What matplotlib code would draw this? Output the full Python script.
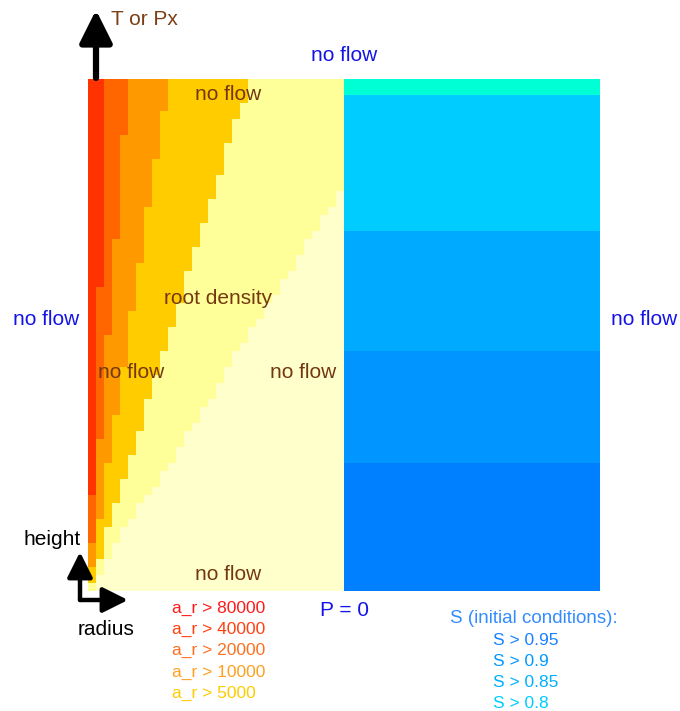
import numpy as np
import matplotlib
matplotlib.use("Agg")
import matplotlib.pyplot as plt
from matplotlib.colors import ListedColormap
from matplotlib.patches import FancyArrowPatch

plt.rcParams['font.family'] = ['Liberation Sans', 'DejaVu Sans']

# root density grid: 64 rows (height, top first) x 32 columns (radius)
# each band is the number of columns at or above that a_r threshold,
# stored as (columns, number of rows) runs from top to bottom
edge_80000 = [(2, 26), (1, 26), (0, 12)]
edge_40000 = [(5, 7), (4, 13), (3, 12), (2, 13), (1, 13), (0, 6)]
edge_20000 = [(10, 4), (9, 6), (8, 6), (7, 7), (6, 6), (5, 7), (4, 6),
              (3, 6), (2, 7), (1, 6), (0, 3)]
edge_10000 = [(20, 3), (19, 2), (18, 3), (17, 4), (16, 3), (15, 3), (14, 3),
              (13, 3), (12, 4), (11, 3), (10, 3), (9, 3), (8, 3), (7, 4),
              (6, 3), (5, 3), (4, 3), (3, 3), (2, 4), (1, 3), (0, 1)]
edge_5000 = [(32, 14), (31, 2), (30, 1), (29, 2), (28, 1), (27, 2), (26, 2),
             (25, 1), (24, 2), (23, 1), (22, 2), (21, 1), (20, 2), (19, 1),
             (18, 2), (17, 2), (16, 2), (15, 1), (14, 2), (13, 1), (12, 2),
             (11, 2), (10, 1), (9, 2), (8, 1), (7, 1), (6, 2), (5, 1), (4, 2),
             (3, 2), (2, 2), (1, 2)]

# initial saturation class per row on the soil side, (class, rows)
s_classes = [(0, 2), (1, 17), (2, 15), (3, 14), (4, 16)]

root_colors = ['#ffffcc', '#ffff99', '#ffcc00', '#ff9900', '#ff6600', '#ff3300']
soil_colors = ['#00ffd4', '#00ccff', '#00aaff', '#0095ff', '#0080ff']

ar_labels = ['a_r > 80000', 'a_r > 40000', 'a_r > 20000', 'a_r > 10000', 'a_r > 5000']
ar_label_colors = ['#ff1a1a', '#ff4010', '#ff7020', '#ffa020', '#ffcc00']
s_labels = ['S > 0.95', 'S > 0.9', 'S > 0.85', 'S > 0.8']
s_label_colors = ['#1a80ff', '#0099ff', '#00b0ff', '#00ccff']


def expand(runs):
    out = []
    for val, n in runs:
        out += [val] * n
    return np.array(out)


edges = [expand(e) for e in (edge_5000, edge_10000, edge_20000, edge_40000, edge_80000)]
cols = np.arange(32)
root = np.zeros((64, 32), dtype=int)
for e in edges:
    root += (cols[None, :] < e[:, None]).astype(int)

soil = np.repeat(expand(s_classes)[:, None], 32, axis=1) + len(root_colors)
grid = np.hstack([root, soil])

W, H = 680, 711
fig = plt.figure(figsize=(W / 100, H / 100), dpi=100)
ax = fig.add_axes([88 / W, (H - 591) / H, 512 / W, 512 / H])
cmap = ListedColormap(root_colors + soil_colors)
ax.imshow(grid, cmap=cmap, vmin=-0.5, vmax=len(cmap.colors) - 0.5,
          extent=(0, 64, 64, 0), interpolation='nearest', aspect='auto')
ax.axis('off')


def fpos(x, y):
    return x / W, 1 - y / H


def label(x, y, s, color, size=15, ha='center'):
    # small nudge so the glyph body (not the descender box) sits on y
    fig.text(*fpos(x, y + 1.5), s, color=color, fontsize=size, ha=ha, va='center')


blue = '#1414e6'
brown = '#743810'
label(344, 54, 'no flow', blue)
label(46, 318, 'no flow', blue)
label(644, 318, 'no flow', blue)
label(344, 609, 'P = 0', blue)

label(228, 93, 'no flow', brown)
label(218, 297, 'root density', brown)
label(131, 371, 'no flow', brown)
label(303, 371, 'no flow', brown)
label(228, 573, 'no flow', brown)

label(144, 18, 'T or Px', '#7b3f16')
label(52, 538, 'height', 'black')
label(106, 628, 'radius', 'black')

for i, (txt, c) in enumerate(zip(ar_labels, ar_label_colors)):
    label(172, 607 + i * 21.2, txt, c, size=12.5, ha='left')

label(450, 617, 'S (initial conditions):', '#338cff', size=13.5, ha='left')
for i, (txt, c) in enumerate(zip(s_labels, s_label_colors)):
    label(493, 639 + i * 21, txt, c, size=12.5, ha='left')


def arrow(p0, p1, lw, scale):
    fig.add_artist(FancyArrowPatch(fpos(*p0), fpos(*p1), transform=fig.transFigure,
                                   arrowstyle='-|>,head_length=0.9,head_width=0.45',
                                   mutation_scale=scale, lw=lw, color='black',
                                   capstyle='round', shrinkA=0, shrinkB=0))


arrow((96, 78), (96, 10), 4.5, 22)
arrow((80, 600), (80, 552), 3.2, 17)
arrow((80, 600), (128, 600), 3.2, 17)

fig.savefig('out.png', dpi=100)
